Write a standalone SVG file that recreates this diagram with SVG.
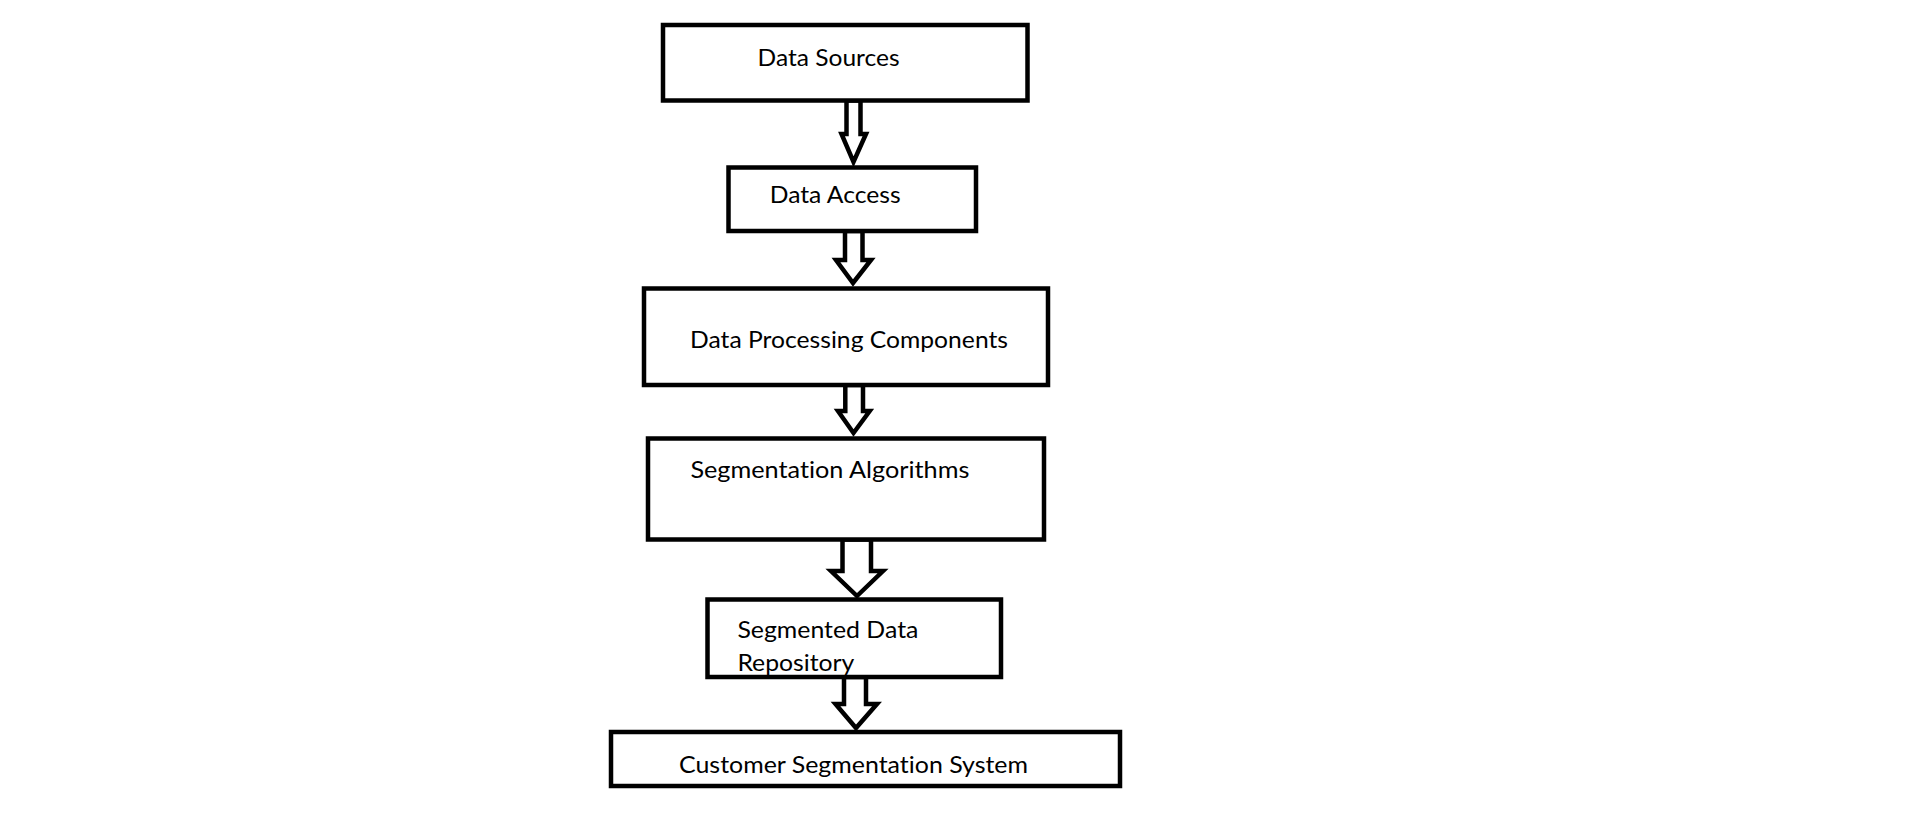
<svg xmlns="http://www.w3.org/2000/svg" width="1914" height="819" viewBox="0 0 1914 819">
<style>
.box{fill:#fff;stroke:#000;stroke-width:4.5}
.arr{fill:#fff;stroke:#000;stroke-width:4.5;stroke-linejoin:miter;stroke-miterlimit:10}
.lbl{font-family:Lato,"Open Sans","Liberation Sans",sans-serif;font-size:24px;fill:#000;font-variant-ligatures:none}
</style>
<rect width="1914" height="819" fill="#fff"/>
<g id="connectors">
<polygon class="arr" points="846.5,100.5 846.5,134 841.5,134 853.5,162 866,134 860.5,134 860.5,100.5"/>
<polygon class="arr" points="845,231 845,260 836,260 853,283 871,260 862.5,260 862.5,231"/>
<polygon class="arr" points="845.3,385 845.3,411 838,411 853.5,433 869.7,411 863,411 863,385"/>
<polygon class="arr" points="842.5,539.5 842.5,571 831,571 857,596 883,571 871,571 871,539.5"/>
<polygon class="arr" points="844,677 844,704 835.5,704 856,728 877,704 866,704 866,677"/>
</g>
<g id="node-data-sources">
<rect class="box" x="663" y="25" width="364.5" height="75.5"/>
<text class="lbl" x="757.6" y="65.7" textLength="142" lengthAdjust="spacingAndGlyphs">Data Sources</text>
</g>
<g id="node-data-access">
<rect class="box" x="728.5" y="167.5" width="247.5" height="63.5"/>
<text class="lbl" x="769.7" y="202.7" textLength="131" lengthAdjust="spacingAndGlyphs">Data Access</text>
</g>
<g id="node-data-processing">
<rect class="box" x="644" y="288.5" width="404" height="96.5"/>
<text class="lbl" x="690" y="347.7" textLength="318" lengthAdjust="spacingAndGlyphs">Data Processing Components</text>
</g>
<g id="node-segmentation-algorithms">
<rect class="box" x="648" y="438.5" width="396" height="101"/>
<text class="lbl" x="690.4" y="478.3" textLength="279" lengthAdjust="spacingAndGlyphs">Segmentation Algorithms</text>
</g>
<g id="node-segmented-data-repository">
<rect class="box" x="707.5" y="599.5" width="293.5" height="77.5"/>
<text class="lbl" x="737.4" y="638.3" textLength="181" lengthAdjust="spacingAndGlyphs">Segmented Data</text>
<text class="lbl" x="737.4" y="671" textLength="117" lengthAdjust="spacingAndGlyphs">Repository</text>
</g>
<g id="node-customer-segmentation-system">
<rect class="box" x="611" y="732" width="509" height="54"/>
<text class="lbl" x="679" y="773.3" textLength="349" lengthAdjust="spacingAndGlyphs">Customer Segmentation System</text>
</g>
</svg>
